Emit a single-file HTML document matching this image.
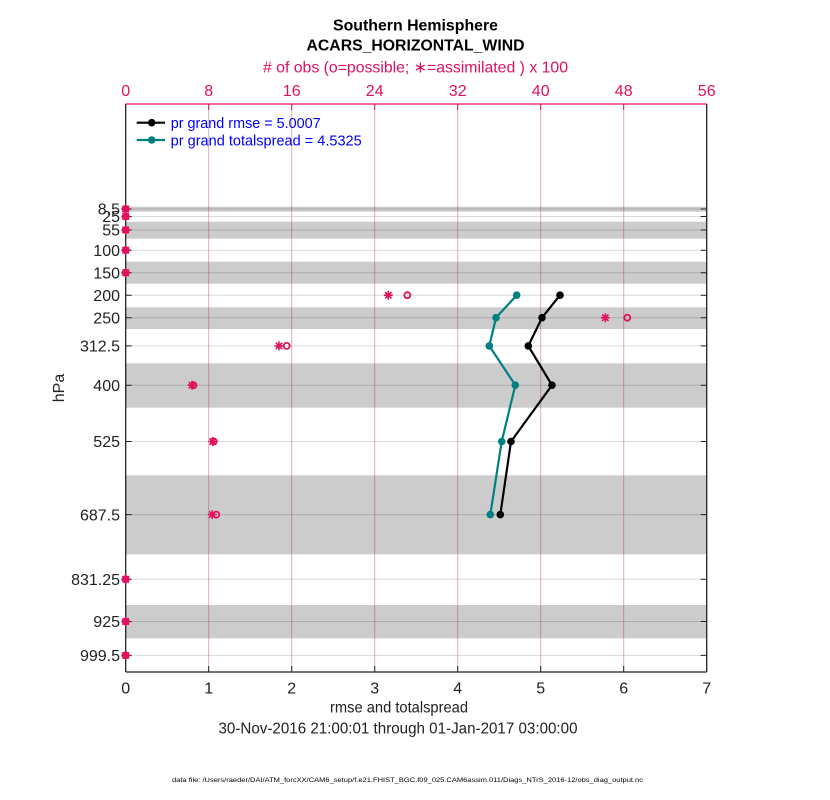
<!DOCTYPE html>
<html><head><meta charset="utf-8"><style>
html,body{margin:0;padding:0;background:#fff;}
svg{display:block;}
text{font-family:"Liberation Sans",Arial,sans-serif;}
</style></head><body>
<svg width="830" height="800" viewBox="0 0 830 800" xmlns="http://www.w3.org/2000/svg">
<rect width="830" height="800" fill="#fff"/>
<!-- bands -->
<g fill="#cccccc">
<rect x="125.7" y="206.7" width="581" height="5"/>
<rect x="125.7" y="221.7" width="581" height="17"/>
<rect x="125.7" y="261.7" width="581" height="22"/>
<rect x="125.7" y="307.3" width="581" height="21.7"/>
<rect x="125.7" y="363.3" width="581" height="44.4"/>
<rect x="125.7" y="475.3" width="581" height="79"/>
<rect x="125.7" y="605" width="581" height="33.3"/>
</g>
<!-- horizontal grid -->
<g stroke="#000" stroke-opacity="0.15" stroke-width="1">
<line x1="125.7" x2="706.7" y1="209" y2="209"/>
<line x1="125.7" x2="706.7" y1="216.5" y2="216.5"/>
<line x1="125.7" x2="706.7" y1="230" y2="230"/>
<line x1="125.7" x2="706.7" y1="250.2" y2="250.2"/>
<line x1="125.7" x2="706.7" y1="272.7" y2="272.7"/>
<line x1="125.7" x2="706.7" y1="295.2" y2="295.2"/>
<line x1="125.7" x2="706.7" y1="317.7" y2="317.7"/>
<line x1="125.7" x2="706.7" y1="345.9" y2="345.9"/>
<line x1="125.7" x2="706.7" y1="385.2" y2="385.2"/>
<line x1="125.7" x2="706.7" y1="441.5" y2="441.5"/>
<line x1="125.7" x2="706.7" y1="514.6" y2="514.6"/>
<line x1="125.7" x2="706.7" y1="579.3" y2="579.3"/>
<line x1="125.7" x2="706.7" y1="621.5" y2="621.5"/>
<line x1="125.7" x2="706.7" y1="655.4" y2="655.4"/>
</g>
<!-- vertical grid -->
<g stroke="#9a1a45" stroke-opacity="0.35" stroke-width="1">
<line x1="208.7" x2="208.7" y1="104" y2="672"/>
<line x1="291.7" x2="291.7" y1="104" y2="672"/>
<line x1="374.7" x2="374.7" y1="104" y2="672"/>
<line x1="457.7" x2="457.7" y1="104" y2="672"/>
<line x1="540.7" x2="540.7" y1="104" y2="672"/>
<line x1="623.7" x2="623.7" y1="104" y2="672"/>
</g>
<!-- axes -->
<g stroke="#222" stroke-width="1.3" fill="none">
<line x1="125.7" y1="104" x2="125.7" y2="672"/>
<line x1="125.7" y1="672" x2="706.7" y2="672"/>
<line x1="706.7" y1="104" x2="706.7" y2="672"/>
</g>
<line x1="125.7" y1="104" x2="706.7" y2="104" stroke="#e0115f" stroke-width="1.3"/>
<!-- bottom ticks -->
<g stroke="#222" stroke-width="1">
<line x1="208.7" x2="208.7" y1="672" y2="666"/>
<line x1="291.7" x2="291.7" y1="672" y2="666"/>
<line x1="374.7" x2="374.7" y1="672" y2="666"/>
<line x1="457.7" x2="457.7" y1="672" y2="666"/>
<line x1="540.7" x2="540.7" y1="672" y2="666"/>
<line x1="623.7" x2="623.7" y1="672" y2="666"/>
</g>
<!-- top ticks -->
<g stroke="#e0115f" stroke-width="1">
<line x1="208.7" x2="208.7" y1="104" y2="110"/>
<line x1="291.7" x2="291.7" y1="104" y2="110"/>
<line x1="374.7" x2="374.7" y1="104" y2="110"/>
<line x1="457.7" x2="457.7" y1="104" y2="110"/>
<line x1="540.7" x2="540.7" y1="104" y2="110"/>
<line x1="623.7" x2="623.7" y1="104" y2="110"/>
</g>
<!-- left/right y ticks -->
<g stroke="#222" stroke-width="1">
<path d="M125.7 209h6M125.7 216.5h6M125.7 230h6M125.7 250.2h6M125.7 272.7h6M125.7 295.2h6M125.7 317.7h6M125.7 345.9h6M125.7 385.2h6M125.7 441.5h6M125.7 514.6h6M125.7 579.3h6M125.7 621.5h6M125.7 655.4h6"/>
<path d="M706.7 209h-6M706.7 216.5h-6M706.7 230h-6M706.7 250.2h-6M706.7 272.7h-6M706.7 295.2h-6M706.7 317.7h-6M706.7 345.9h-6M706.7 385.2h-6M706.7 441.5h-6M706.7 514.6h-6M706.7 579.3h-6M706.7 621.5h-6M706.7 655.4h-6"/>
</g>
<!-- y labels -->
<g font-size="16" fill="#222" text-anchor="end">
<text x="120" y="214.7">8.5</text>
<text x="120" y="222.2">25</text>
<text x="120" y="235.7">55</text>
<text x="120" y="255.9">100</text>
<text x="120" y="278.4">150</text>
<text x="120" y="300.9">200</text>
<text x="120" y="323.4">250</text>
<text x="120" y="351.6">312.5</text>
<text x="120" y="390.9">400</text>
<text x="120" y="447.2">525</text>
<text x="120" y="520.3">687.5</text>
<text x="120" y="585">831.25</text>
<text x="120" y="627.2">925</text>
<text x="120" y="661.1">999.5</text>
</g>
<text x="64" y="388" font-size="16" fill="#222" text-anchor="middle" transform="rotate(-90 64 388)">hPa</text>
<!-- bottom tick labels -->
<g font-size="16" fill="#222" text-anchor="middle">
<text x="125.7" y="693.5">0</text>
<text x="208.7" y="693.5">1</text>
<text x="291.7" y="693.5">2</text>
<text x="374.7" y="693.5">3</text>
<text x="457.7" y="693.5">4</text>
<text x="540.7" y="693.5">5</text>
<text x="623.7" y="693.5">6</text>
<text x="706.7" y="693.5">7</text>
</g>
<!-- top tick labels -->
<g font-size="16" fill="#e0115f" text-anchor="middle">
<text x="125.7" y="96">0</text>
<text x="208.7" y="96">8</text>
<text x="291.7" y="96">16</text>
<text x="374.7" y="96">24</text>
<text x="457.7" y="96">32</text>
<text x="540.7" y="96">40</text>
<text x="623.7" y="96">48</text>
<text x="706.7" y="96">56</text>
</g>
<!-- titles -->
<text x="415.5" y="30.5" font-size="16" font-weight="bold" fill="#000" text-anchor="middle" textLength="165" lengthAdjust="spacingAndGlyphs">Southern Hemisphere</text>
<text x="415.5" y="50.5" font-size="16" font-weight="bold" fill="#000" text-anchor="middle" textLength="218" lengthAdjust="spacingAndGlyphs">ACARS_HORIZONTAL_WIND</text>
<text x="415.5" y="72.5" font-size="16" fill="#e0115f" text-anchor="middle" textLength="305" lengthAdjust="spacingAndGlyphs"># of obs (o=possible; ∗=assimilated ) x 100</text>
<text x="399" y="712.5" font-size="16" fill="#222" text-anchor="middle" textLength="138" lengthAdjust="spacingAndGlyphs">rmse and totalspread</text>
<text x="398" y="733.5" font-size="16" fill="#222" text-anchor="middle" textLength="359" lengthAdjust="spacingAndGlyphs">30-Nov-2016 21:00:01 through 01-Jan-2017 03:00:00</text>
<text x="172" y="782" font-size="6.5" fill="#000" textLength="471" lengthAdjust="spacingAndGlyphs">data file: /Users/raeder/DAI/ATM_forcXX/CAM6_setup/f.e21.FHIST_BGC.f09_025.CAM6assim.011/Diags_NTrS_2016-12/obs_diag_output.nc</text>
<!-- series -->
<polyline points="560,295.2 542,317.7 528.3,345.9 552,385.2 511,441.5 500.3,514.6" fill="none" stroke="#000" stroke-width="2.2"/>
<polyline points="516.7,295.2 496,317.7 489.3,345.9 515.3,385.2 501.7,441.5 490.3,514.6" fill="none" stroke="#008080" stroke-width="2.2"/>
<g fill="#000">
<circle cx="560" cy="295.2" r="3.8"/><circle cx="542" cy="317.7" r="3.8"/><circle cx="528.3" cy="345.9" r="3.8"/><circle cx="552" cy="385.2" r="3.8"/><circle cx="511" cy="441.5" r="3.8"/><circle cx="500.3" cy="514.6" r="3.8"/>
</g>
<g fill="#008080">
<circle cx="516.7" cy="295.2" r="3.8"/><circle cx="496" cy="317.7" r="3.8"/><circle cx="489.3" cy="345.9" r="3.8"/><circle cx="515.3" cy="385.2" r="3.8"/><circle cx="501.7" cy="441.5" r="3.8"/><circle cx="490.3" cy="514.6" r="3.8"/>
</g>
<!-- obs markers: circles -->
<g fill="none" stroke="#e0115f" stroke-width="1.8">
<circle cx="407.3" cy="295.2" r="3"/>
<circle cx="627.3" cy="317.7" r="3"/>
<circle cx="286.7" cy="345.9" r="3"/>
<circle cx="193.5" cy="385.2" r="3"/>
<circle cx="213.8" cy="441.5" r="3"/>
<circle cx="216.3" cy="514.6" r="3"/>
<circle cx="125.7" cy="209" r="3"/>
<circle cx="125.7" cy="216.5" r="3"/>
<circle cx="125.7" cy="230" r="3"/>
<circle cx="125.7" cy="250.2" r="3"/>
<circle cx="125.7" cy="272.7" r="3"/>
<circle cx="125.7" cy="579.3" r="3"/>
<circle cx="125.7" cy="621.5" r="3"/>
<circle cx="125.7" cy="655.4" r="3"/>
</g>
<!-- obs markers: asterisks -->
<defs>
<path id="ast" d="M-4.5 0H4.5M0 -4.5V4.5M-3.2 -3.2L3.2 3.2M-3.2 3.2L3.2 -3.2" stroke="#e0115f" stroke-width="1.6" fill="none"/>
</defs>
<use href="#ast" x="388.3" y="295.2"/>
<use href="#ast" x="605.3" y="317.7"/>
<use href="#ast" x="279" y="345.9"/>
<use href="#ast" x="192" y="385.2"/>
<use href="#ast" x="212.7" y="441.5"/>
<use href="#ast" x="212.3" y="514.6"/>
<use href="#ast" x="125.7" y="209"/>
<use href="#ast" x="125.7" y="216.5"/>
<use href="#ast" x="125.7" y="230"/>
<use href="#ast" x="125.7" y="250.2"/>
<use href="#ast" x="125.7" y="272.7"/>
<use href="#ast" x="125.7" y="579.3"/>
<use href="#ast" x="125.7" y="621.5"/>
<use href="#ast" x="125.7" y="655.4"/>
<!-- legend -->
<line x1="136.7" y1="122.7" x2="165" y2="122.7" stroke="#000" stroke-width="2.2"/>
<circle cx="151.7" cy="122.7" r="3.8" fill="#000"/>
<line x1="136.7" y1="140" x2="165" y2="140" stroke="#008080" stroke-width="2.2"/>
<circle cx="151.7" cy="140" r="3.8" fill="#008080"/>
<text x="170.7" y="128" font-size="14.5" fill="#0000ff" textLength="150" lengthAdjust="spacingAndGlyphs">pr grand rmse = 5.0007</text>
<text x="170.7" y="145.3" font-size="14.5" fill="#0000ff" textLength="191" lengthAdjust="spacingAndGlyphs">pr grand totalspread = 4.5325</text>
</svg>
</body></html>
